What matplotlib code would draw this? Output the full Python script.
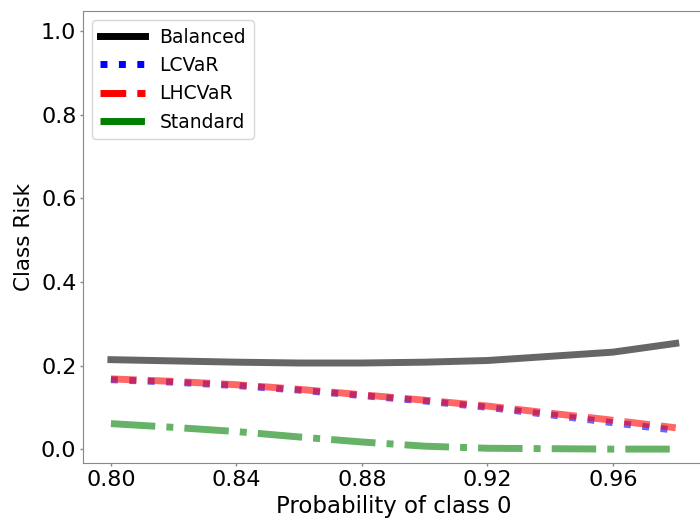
import numpy as np
import matplotlib
matplotlib.use("Agg")
import matplotlib.pyplot as plt

# probability of class 0
p0 = [0.80, 0.82, 0.84, 0.86, 0.88, 0.90, 0.92, 0.94, 0.96, 0.98]

balanced = [0.214, 0.211, 0.208, 0.206, 0.206, 0.208, 0.212, 0.222, 0.232, 0.253]
lcvar = [0.166, 0.160, 0.152, 0.141, 0.128, 0.115, 0.100, 0.082, 0.063, 0.045]
lhcvar = [0.168, 0.162, 0.154, 0.143, 0.130, 0.117, 0.103, 0.086, 0.069, 0.051]
standard = [0.061, 0.052, 0.042, 0.029, 0.017, 0.007, 0.002, 0.001, 0.0, 0.0]

xticks = [0.80, 0.84, 0.88, 0.92, 0.96]
yticks = [0.0, 0.2, 0.4, 0.6, 0.8, 1.0]

fig = plt.figure(figsize=(7, 5.19), dpi=100)
# right spine falls just outside the saved picture, like the reference
ax = fig.add_axes([0.1181, 0.1073, 1.0057 - 0.1181, 0.9794 - 0.1073])

ax.plot(p0, balanced, color='black', linestyle='-', linewidth=5, alpha=0.6, label='Balanced')
ax.plot(p0, lcvar, color='blue', linestyle=':', linewidth=5, alpha=0.6, label='LCVaR')
ax.plot(p0, lhcvar, color='red', linestyle='--', linewidth=5, alpha=0.6, label='LHCVaR')
ax.plot(p0, standard, color='green', linestyle='-.', linewidth=5, alpha=0.6, label='Standard')

ax.set_xlim(0.791, 0.989)
ax.set_ylim(-0.034, 1.049)
ax.set_xticks(xticks)
ax.set_xticklabels([f'{t:.2f}' for t in xticks])
ax.set_yticks(yticks)
ax.set_yticklabels([f'{t:.1f}' for t in yticks])
ax.tick_params(labelsize=16, length=2, width=1, pad=2.5, colors='#888888', labelcolor='black')
for s in ax.spines.values():
    s.set_color('#888888')

ax.set_xlabel('Probability of class 0', fontsize=16.5, labelpad=4)
ax.set_ylabel('Class Risk', fontsize=15.5, labelpad=5)

leg = ax.legend(loc='upper left', fontsize=13.5, handlelength=2.45, handletextpad=0.75)
for h in leg.legend_handles:
    h.set_alpha(1)

plt.savefig('out.png', dpi=100)
